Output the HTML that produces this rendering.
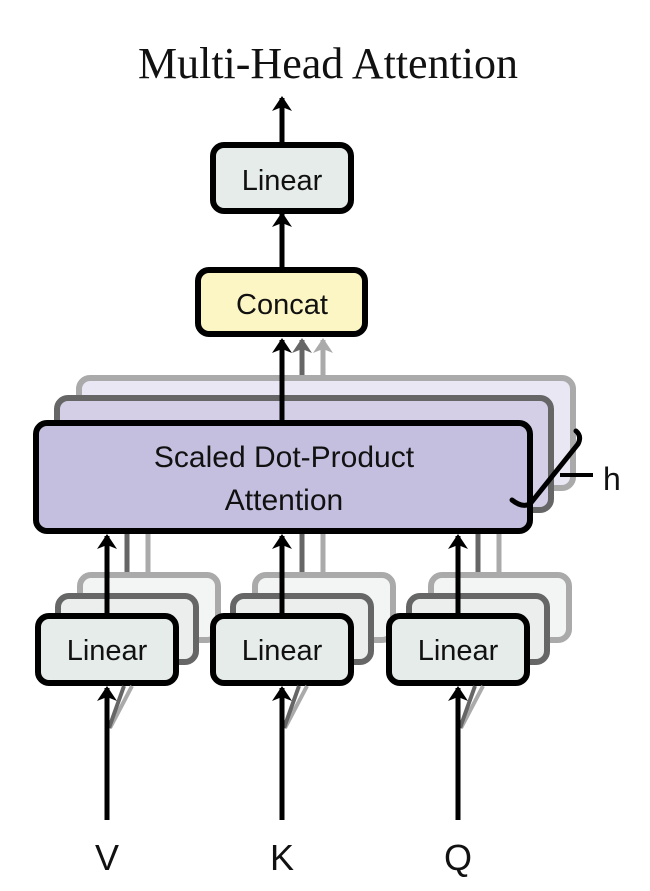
<!DOCTYPE html>
<html><head><meta charset="utf-8"><style>
html,body{margin:0;padding:0;background:#fff}
svg{display:block}
text{font-family:"Liberation Sans",sans-serif;fill:#111}
</style></head><body>
<svg width="650" height="891" viewBox="0 0 650 891" xmlns="http://www.w3.org/2000/svg">
<defs>
<marker id="ab" markerWidth="4" markerHeight="4" refX="2.6" refY="2" orient="auto" markerUnits="strokeWidth"><path d="M0,0 L3,2 L0,4 L0.8,2 z" fill="#000"/></marker>
<marker id="ag" markerWidth="4" markerHeight="4" refX="2.6" refY="2" orient="auto" markerUnits="strokeWidth"><path d="M0,0 L3,2 L0,4 L0.8,2 z" fill="#666"/></marker>
<marker id="al" markerWidth="4" markerHeight="4" refX="2.6" refY="2" orient="auto" markerUnits="strokeWidth"><path d="M0,0 L3,2 L0,4 L0.8,2 z" fill="#aaa"/></marker>
</defs>
<text x="328" y="78" text-anchor="middle" style="font-family:'Liberation Serif',serif;font-size:44px">Multi-Head Attention</text>

<!-- top arrows -->
<line x1="282" y1="142" x2="282" y2="98" stroke="#000" stroke-width="5" marker-end="url(#ab)"/>
<line x1="282" y1="267" x2="282" y2="214" stroke="#000" stroke-width="5" marker-end="url(#ab)"/>
<rect x="213" y="145" width="138" height="66" rx="11" fill="#e6ecea" stroke="#000" stroke-width="6"/>
<text x="282" y="190" text-anchor="middle" font-size="29">Linear</text>
<rect x="198" y="270" width="167" height="64" rx="11" fill="#fcf6c4" stroke="#000" stroke-width="6"/>
<text x="282" y="314" text-anchor="middle" font-size="29">Concat</text>

<!-- arrows into concat -->
<line x1="323" y1="378" x2="323" y2="340" stroke="#aaa" stroke-width="5" marker-end="url(#al)"/>
<line x1="302" y1="398" x2="302" y2="340" stroke="#666" stroke-width="5" marker-end="url(#ag)"/>

<!-- back SDPA boxes -->
<rect x="79" y="378" width="494" height="110" rx="11" fill="#e9e7f3" stroke="#aaa" stroke-width="6"/>
<rect x="57" y="398" width="494" height="112" rx="11" fill="#d4cfe7" stroke="#666" stroke-width="6"/>
<line x1="282" y1="423" x2="282" y2="340" stroke="#000" stroke-width="5" marker-end="url(#ab)"/>
<rect x="36" y="423" width="494" height="108" rx="11" fill="#c5bfdf" stroke="#000" stroke-width="6"/>
<text x="284" y="467" text-anchor="middle" font-size="30">Scaled Dot-Product</text>
<text x="284" y="510" text-anchor="middle" font-size="30">Attention</text>

<!-- h bracket -->
<path d="M512,500 Q522,508 530,504 L578,444 Q582,436 576,431" fill="none" stroke="#000" stroke-width="5" stroke-linecap="round"/>
<line x1="560" y1="475" x2="593" y2="475" stroke="#000" stroke-width="4"/>
<text x="603" y="490" font-size="32">h</text>

<!-- Linear stacks -->
<g id="stk">
<line x1="148" y1="575" x2="148" y2="534" stroke="#aaa" stroke-width="5"/>
<line x1="127" y1="596" x2="127" y2="534" stroke="#666" stroke-width="5"/>
<rect x="80" y="575" width="138" height="65" rx="11" fill="#f3f5f4" stroke="#aaa" stroke-width="6"/>
<rect x="58" y="596" width="138" height="66" rx="11" fill="#eceeed" stroke="#666" stroke-width="6"/>
<line x1="107" y1="616" x2="107" y2="536" stroke="#000" stroke-width="5" marker-end="url(#ab)"/>
<rect x="38" y="616" width="138" height="67" rx="11" fill="#e6ecea" stroke="#000" stroke-width="6"/>
<text x="107" y="660" text-anchor="middle" font-size="29">Linear</text>
<line x1="110" y1="728" x2="132" y2="686" stroke="#aaa" stroke-width="4"/>
<line x1="109" y1="728" x2="124" y2="686" stroke="#666" stroke-width="4"/>
<line x1="107" y1="820" x2="107" y2="688" stroke="#000" stroke-width="5" marker-end="url(#ab)"/>
</g>
<use href="#stk" transform="translate(175,0)"/>
<use href="#stk" transform="translate(351,0)"/>

<text x="107" y="870" text-anchor="middle" font-size="36">V</text>
<text x="282" y="870" text-anchor="middle" font-size="36">K</text>
<text x="458" y="870" text-anchor="middle" font-size="36">Q</text>
</svg>
</body></html>
